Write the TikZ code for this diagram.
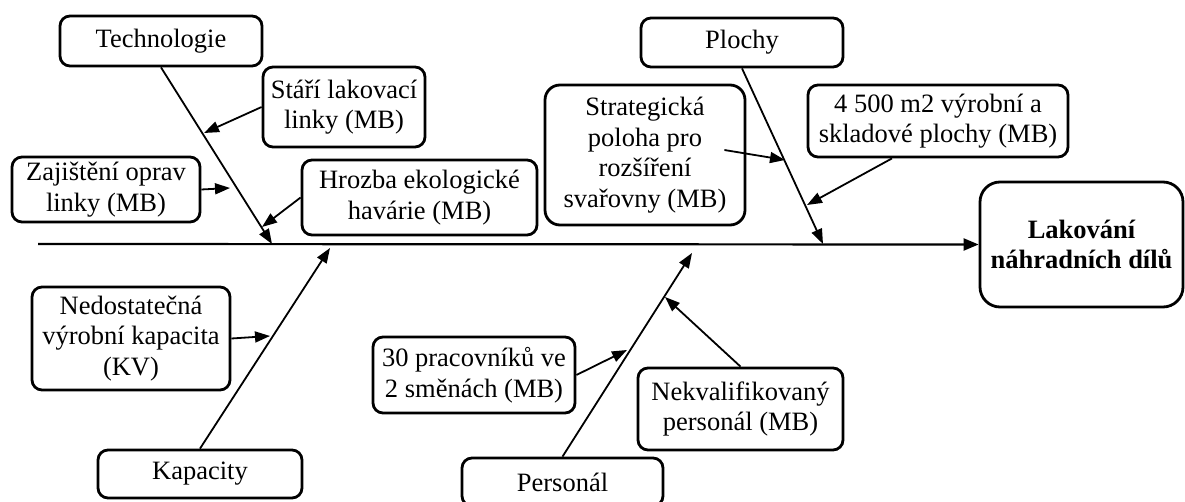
\documentclass[tikz,border=0pt]{standalone}
\usepackage{fontspec}
\setmainfont{Liberation Serif}
\usetikzlibrary{arrows.meta}

\begin{document}
\begin{tikzpicture}[x=1pt, y=-1pt,
  box/.style={draw, line width=2.8pt, rounded corners=10pt, align=center,
    inner sep=0pt, font=\fontsize{26.5}{30.5}\selectfont},
  bone/.style={line width=1.8pt, -{Triangle[length=15pt, width=11pt]}},
  spine/.style={line width=2.2pt, -{Triangle[length=15pt, width=12pt]}}]
  \useasboundingbox (0,0) rectangle (1185,502);
  \clip (0,0) rectangle (1185,502);

  % category boxes
  \node[box, minimum width=202pt, minimum height=50pt] (tech) at (161,41) {Technologie};
  \node[box, minimum width=202pt, minimum height=49pt] (plochy) at (742,42.5) {Plochy};
  \node[box, minimum width=204pt, minimum height=48pt] (kap) at (200,474) {Kapacity};
  \node[box, minimum width=201pt, minimum height=48pt] (pers) at (562.5,482) {Personál};

  % cause boxes
  \node[box, minimum width=162pt, minimum height=80pt] (star) at (344,107) {Stáří lakovací\\linky (MB)};
  \node[box, minimum width=188pt, minimum height=65pt] (zaj) at (106,189.5) {Zajištění oprav\\linky (MB)};
  \node[box, minimum width=235pt, minimum height=75pt] (hroz) at (419.5,197.5) {Hrozba ekologické\\havárie (MB)};
  \node[box, minimum width=198pt, minimum height=103pt] (nedo) at (131,338.5) {Nedostatečná\\výrobní kapacita\\(KV)};
  \node[box, rounded corners=15pt, minimum width=200pt, minimum height=140pt] (strat) at (645,155) {Strategická\\poloha pro\\rozšíření\\svařovny (MB)};
  \node[box, minimum width=260pt, minimum height=72pt] (m2) at (938,121) {4 500 m2 výrobní a\\skladové plochy (MB)};
  \node[box, minimum width=202pt, minimum height=76pt] (tri) at (474,375) {30 pracovníků ve\\2 směnách (MB)};
  \node[box, minimum width=205pt, minimum height=82pt] (nek) at (740.5,409) {Nekvalifikovaný\\personál (MB)};

  % effect box
  \node[box, rounded corners=20pt, minimum width=203pt, minimum height=125pt,
    font=\fontsize{26.5}{30.5}\selectfont\bfseries] (lak) at (1081.5,244.5) {Lakování\\náhradních dílů};

  % spine and bone ends
  \coordinate (tail) at (38,244);
  \coordinate (techend) at (272,244);
  \coordinate (plend) at (823,244);
  \coordinate (kapend) at (330,248);
  \coordinate (persend) at (692,253);

  % arrow tips of the causes on the bones
  \coordinate (starend) at (204,133);
  \coordinate (zajend) at (230,188);
  \coordinate (hrozend) at (262,227);
  \coordinate (stratend) at (785,160);
  \coordinate (m2end) at (807,205);
  \coordinate (nedoend) at (270,336);
  \coordinate (triend) at (627,350);
  \coordinate (nekend) at (665,297);

  \draw[spine] (tail) -- (lak.west);

  \draw[bone] (tech.south) -- (techend);
  \draw[bone] (plochy.south) -- (plend);
  \draw[bone] (kap.north) -- (kapend);
  \draw[bone] (pers.north) -- (persend);

  \draw[bone] (star.west) -- (starend);
  \draw[bone] (zaj.east) -- (zajend);
  \draw[bone] (hroz.west) -- (hrozend);
  \draw[bone] ([xshift=-22pt, yshift=5pt]strat.east) -- (stratend);
  \draw[bone] ([xshift=-46pt]m2.south) -- (m2end);
  \draw[bone] (nedo.east) -- (nedoend);
  \draw[bone] (tri.east) -- (triend);
  \draw[bone] (nek.north) -- (nekend);
\end{tikzpicture}
\end{document}
